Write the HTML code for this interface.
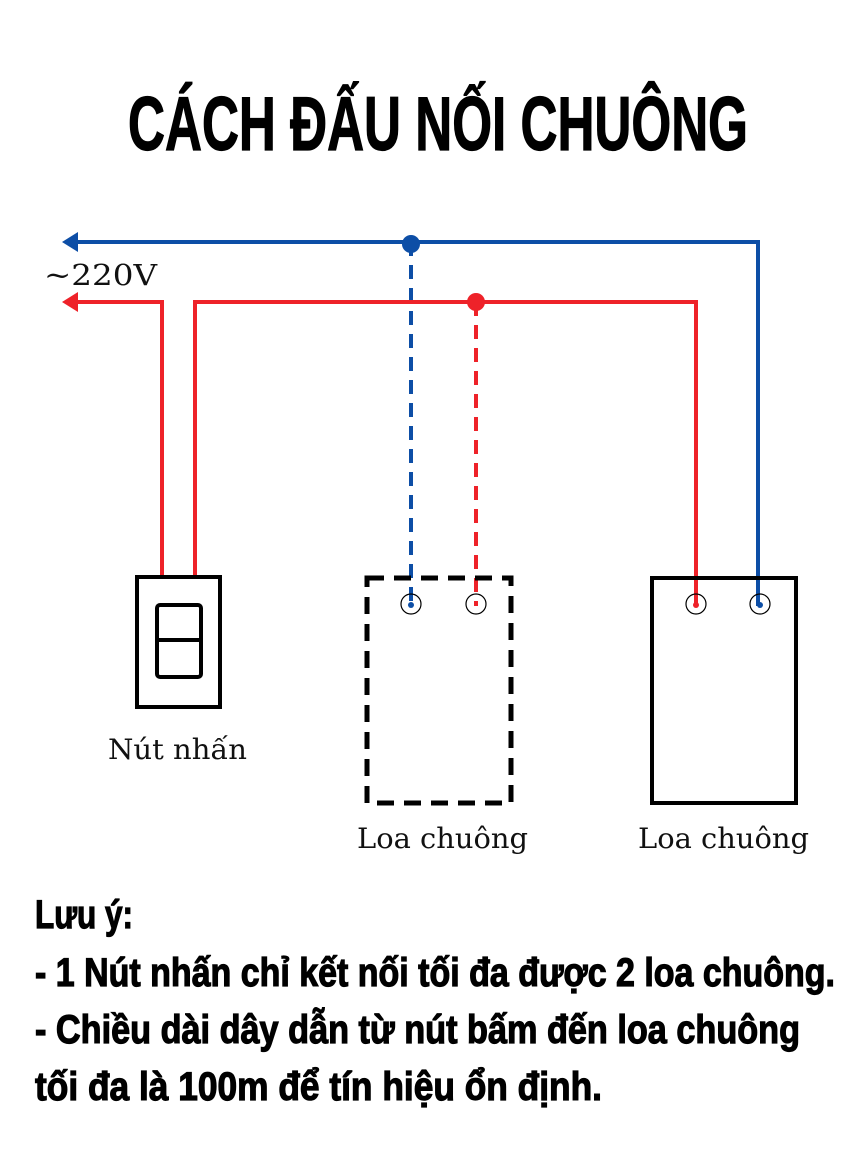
<!DOCTYPE html>
<html><head><meta charset="utf-8"><style>
html,body{margin:0;padding:0;background:#fff;}
svg{display:block;}
.t{font-family:"Liberation Sans",sans-serif;font-weight:bold;fill:#000;stroke:#000;stroke-width:1.2;}
.s{font-family:"DejaVu Serif","Liberation Serif",serif;fill:#111;}
</style></head><body>
<svg width="854" height="1161" viewBox="0 0 854 1161" xmlns="http://www.w3.org/2000/svg">
<rect width="854" height="1161" fill="#fff"/>
<text class="t" x="128" y="150" font-size="76" textLength="620" lengthAdjust="spacingAndGlyphs" stroke-width="2">CÁCH ĐẤU NỐI CHUÔNG</text>

<g stroke="#0d4ea6" stroke-width="4" fill="none">
<polyline points="72,242 758,242 758,606"/>
<line x1="411" y1="242" x2="411" y2="606" stroke-dasharray="14,9"/>
</g>
<polygon points="62,242 78,232 78,252" fill="#0d4ea6"/>
<circle cx="411" cy="244" r="9" fill="#0d4ea6"/>

<g stroke="#ee2229" stroke-width="4" fill="none">
<polyline points="72,302 162,302 162,578"/>
<polyline points="195,578 195,302 696,302 696,606"/>
<line x1="476" y1="302" x2="476" y2="606" stroke-dasharray="14,9"/>
</g>
<polygon points="62,302 78,292 78,312" fill="#ee2229"/>
<circle cx="476" cy="302" r="9" fill="#ee2229"/>

<text class="s" x="44" y="285" font-size="29" textLength="113" lengthAdjust="spacingAndGlyphs">~220V</text>

<rect x="137" y="577" width="83" height="130" fill="none" stroke="#000" stroke-width="4"/>
<rect x="157" y="605" width="44" height="72" rx="3" fill="none" stroke="#000" stroke-width="4"/>
<line x1="157" y1="640" x2="201" y2="640" stroke="#000" stroke-width="4"/>
<text class="s" x="108" y="759" font-size="28" textLength="139" lengthAdjust="spacingAndGlyphs">Nút nhấn</text>

<rect x="367" y="578" width="144" height="225" fill="none" stroke="#000" stroke-width="5" stroke-dasharray="17,10"/>
<circle cx="411" cy="604" r="10" fill="none" stroke="#000" stroke-width="1.2"/>
<circle cx="476" cy="604" r="10" fill="none" stroke="#000" stroke-width="1.2"/>
<circle cx="411" cy="605" r="3" fill="#0d4ea6"/>
<text class="s" x="357" y="848" font-size="28" textLength="171" lengthAdjust="spacingAndGlyphs">Loa chuông</text>

<rect x="652" y="578" width="144" height="225" fill="none" stroke="#000" stroke-width="4"/>
<circle cx="696" cy="604" r="10" fill="none" stroke="#000" stroke-width="1.2"/>
<circle cx="760" cy="604" r="10" fill="none" stroke="#000" stroke-width="1.2"/>
<circle cx="696" cy="605" r="3" fill="#ee2229"/>
<circle cx="760" cy="605" r="3" fill="#0d4ea6"/>
<text class="s" x="638" y="848" font-size="28" textLength="171" lengthAdjust="spacingAndGlyphs">Loa chuông</text>

<text class="t" x="35" y="928" font-size="40" textLength="98" lengthAdjust="spacingAndGlyphs">Lưu ý:</text>
<text class="t" x="35" y="986" font-size="40" textLength="800" lengthAdjust="spacingAndGlyphs">- 1 Nút nhấn chỉ kết nối tối đa được 2 loa chuông.</text>
<text class="t" x="35" y="1043" font-size="40" textLength="765" lengthAdjust="spacingAndGlyphs">- Chiều dài dây dẫn từ nút bấm đến loa chuông</text>
<text class="t" x="35" y="1100" font-size="40" textLength="567" lengthAdjust="spacingAndGlyphs">tối đa là 100m để tín hiệu ổn định.</text>
</svg>
</body></html>
